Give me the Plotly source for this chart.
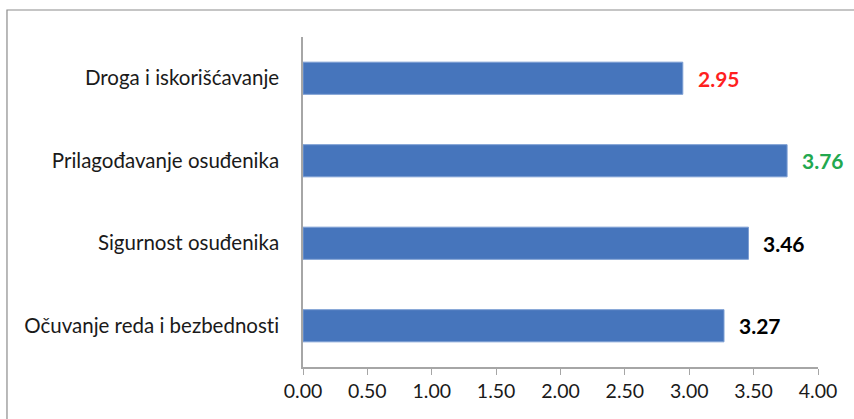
import plotly.graph_objects as go

categories = ["Očuvanje reda i bezbednosti", "Sigurnost osuđenika",
              "Prilagođavanje osuđenika", "Droga i iskorišćavanje"]
values = [3.27, 3.46, 3.76, 2.95]
label_colors = ["#000000", "#000000", "#22a84f", "#ff1f1f"]
tick_vals = [0, 0.5, 1, 1.5, 2, 2.5, 3, 3.5, 4]
tick_text = ["0.00", "0.50", "1.00", "1.50", "2.00", "2.50", "3.00", "3.50", "4.00"]

FONT = "Lato, Carlito, Calibri, sans-serif"

fig = go.Figure()
fig.add_trace(go.Bar(
    y=categories, x=values, orientation="h", width=0.39,
    marker=dict(color="#4675bc", line=dict(color="#7d9fd3", width=1)),
    hoverinfo="skip",
))

for c, v, col in zip(categories, values, label_colors):
    fig.add_annotation(x=v, y=c, text=f"{v:.2f}", showarrow=False,
                       xanchor="left", xshift=13,
                       font=dict(family=FONT, size=21, color=col, weight="bold"))

fig.add_shape(type="rect", xref="paper", yref="paper",
              x0=-0.5748, x1=1.2, y0=-0.3, y1=1.0818,
              line=dict(color="#8c8c8c", width=1.2), fillcolor="rgba(0,0,0,0)", layer="below")

fig.update_layout(
    width=854, height=419,
    margin=dict(l=303, r=36, t=37, b=52),
    paper_bgcolor="white", plot_bgcolor="white",
    showlegend=False,
    font=dict(family=FONT, size=20, color="#1a1a1a"),
)
fig.update_xaxes(range=[0, 4], tickvals=tick_vals, ticktext=tick_text,
                 showgrid=False, zeroline=False, showline=True, linecolor="#a6a6a6", linewidth=1.5,
                 ticks="outside", ticklen=6, tickcolor="#a6a6a6",
                 tickfont=dict(family=FONT, size=19.5, color="#1a1a1a"))
fig.update_yaxes(showgrid=False, zeroline=False, showline=True, linecolor="#a6a6a6", linewidth=1.5,
                 ticks="", ticklabelstandoff=18, tickfont=dict(family=FONT, size=20.5, color="#1a1a1a"),
                 tickvals=categories, ticktext=[c.replace("ti", "t\u200ci") for c in categories],
                 range=[-0.5, 3.5])

fig.write_html("out.html", config={"displayModeBar": False},
               post_script="document.body.style.margin='0';document.body.style.overflow='hidden';")
